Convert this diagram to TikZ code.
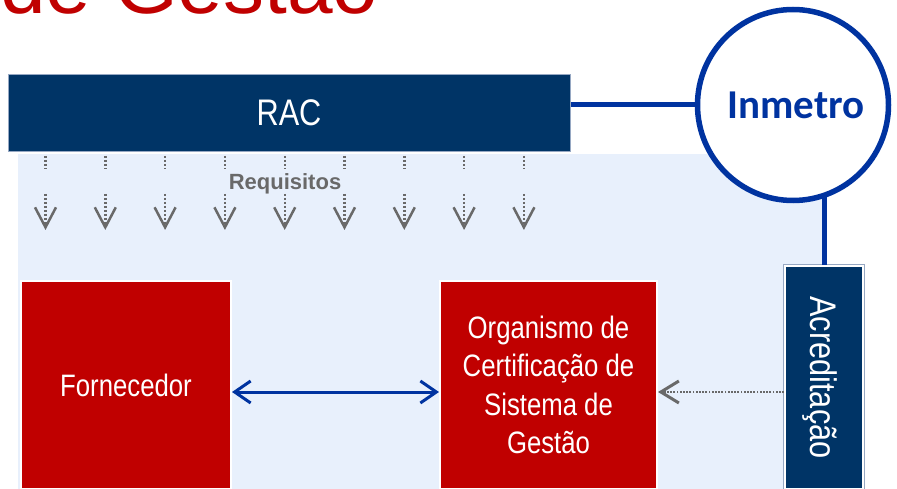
\documentclass[tikz,border=0pt]{standalone}
\usepackage{fontspec}
\setmainfont{Liberation Sans}
\newfontfamily\narrowfont[FakeStretch=0.83]{Liberation Sans}
\newfontfamily\calfont{Carlito}
\usetikzlibrary{arrows.meta}
\definecolor{navy}{RGB}{0,52,102}
\definecolor{redbox}{RGB}{192,0,0}
\definecolor{lightbg}{RGB}{232,240,252}
\definecolor{inblue}{RGB}{0,51,160}
\definecolor{arrgray}{RGB}{105,105,105}
\definecolor{edgegray}{RGB}{150,168,195}
\begin{document}
\begin{tikzpicture}[x=1pt,y=-1pt,
  redstyle/.style={fill=redbox, draw=white, line width=2pt, inner sep=0pt, text=white, align=center,
    font=\narrowfont\fontsize{31}{38.5}\selectfont},
  navystyle/.style={fill=navy, draw=white, line width=2pt, inner sep=0pt,
    preaction={draw=edgegray, line width=4pt}},
  whitetext/.style={text=white, inner sep=0pt, font=\narrowfont\fontsize{37}{37}\selectfont},
  conn/.style={draw=inblue, line width=5pt},
  reqdot/.style={draw=arrgray, line width=2.4pt, dash pattern=on 2pt off 2pt}
]
\useasboundingbox (0,0) rectangle (897,489);
% background panel
\fill[lightbg] (18,154) rectangle (826,489);
% title (cut off at top)
\node[anchor=base west, inner sep=0pt, text=redbox, font=\fontsize{82}{82}\selectfont] (title) at (0,14) {de Gestão};
% RAC bar
\node[fill=navy, draw=edgegray, line width=1pt, minimum width=562pt, minimum height=77pt, inner sep=0pt,
  whitetext] (rac) at (289,113) {RAC};
% Inmetro circle
\node[circle, draw=inblue, line width=5.5pt, fill=white, minimum size=191pt, inner sep=0pt,
  text=inblue, font=\calfont\bfseries\fontsize{41}{41}\selectfont] (inm) at (793,105) {\hspace*{6pt}Inmetro};
% boxes
\node[redstyle, minimum width=210pt, minimum height=208pt] (forn) at (126,385) {Fornecedor};
\node[redstyle, minimum width=217pt, minimum height=208pt] (org) at (548.5,385)
  {Organismo de\\Certificação de\\Sistema de\\Gestão};
\node[navystyle, minimum width=78pt, minimum height=223pt] (acr) at (824,377.5) {};
\node[whitetext, rotate=-90] (acrtext) at ([xshift=-4pt]acr.center) {Acreditação};
% connectors
\draw[conn] (rac.east |- inm.west) -- (inm.west);
\draw[conn] (acr.north) -- (acr.north |- inm.-70);
\draw[draw=inblue, line width=3pt, {Straight Barb[length=16pt,width=22pt]}-{Straight Barb[length=16pt,width=22pt]}]
  ([yshift=-7pt]forn.east) -- ([yshift=-7pt]org.west);
\draw[draw=arrgray, line width=2.4pt, dash pattern=on 1.8pt off 1.4pt,
  -{Straight Barb[length=18pt,width=22pt,line width=3pt]}]
  ([yshift=-14.5pt]acr.west) -- ([yshift=-14.5pt]acr.west -| org.east);
% requisitos
\foreach \i in {0,...,8}{
  \pgfmathsetmacro\xx{45.5+59.8*\i}
  \coordinate (ra\i) at (\xx,156);
  \coordinate (rb\i) at (\xx,169);
  \coordinate (rc\i) at (\xx,194);
  \coordinate (rd\i) at (\xx,230);
  \draw[reqdot] (ra\i) -- (rb\i);
  \draw[reqdot, -{Straight Barb[length=20pt,width=21pt,line width=2.5pt]}] (rc\i) -- (rd\i);
}
\node[inner sep=0pt, text=arrgray, font=\bfseries\fontsize{22}{22}\selectfont] (req) at (285,184) {Requisitos};
\end{tikzpicture}
\end{document}
